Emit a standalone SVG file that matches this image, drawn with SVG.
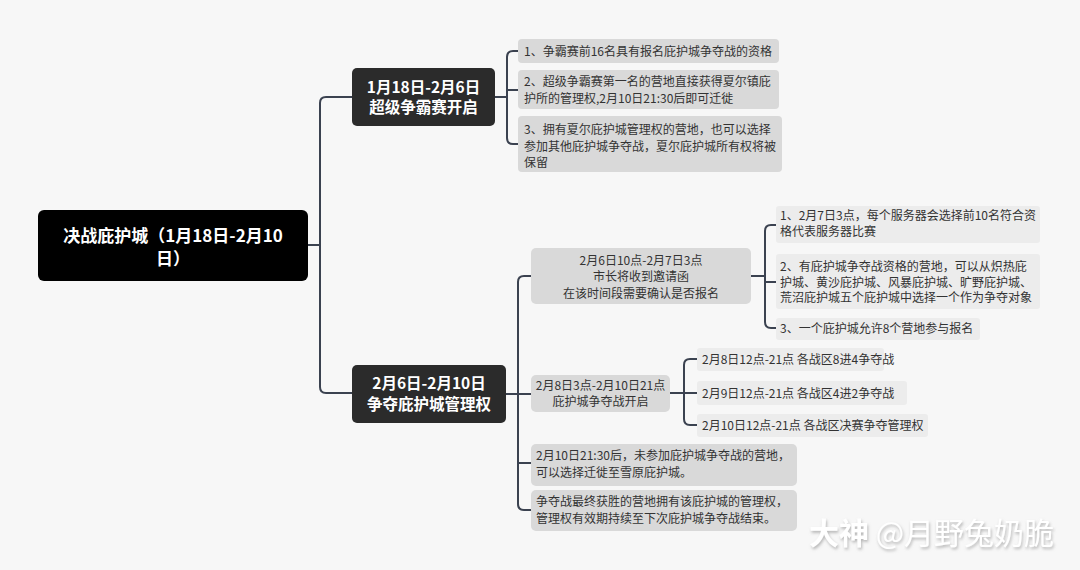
<svg xmlns="http://www.w3.org/2000/svg" width="1080" height="570" viewBox="0 0 1080 570">
<defs>
<style>
.bg{fill:#f7f7f7}
.root{fill:#000}
.main{fill:#2b2b2b}
.grey{fill:#d9d9d9}
.light{fill:#ececec}
.conn{fill:none;stroke:#3b4250;stroke-width:2;stroke-linejoin:round}
text{font-family:"Noto Sans CJK SC","Noto Sans",sans-serif}
.tr{fill:#fff;font-size:17px;font-weight:700;text-anchor:middle}
.tm{fill:#fff;font-size:15.5px;font-weight:700;text-anchor:middle}
.t{fill:#333;font-size:12px}
.tc{fill:#333;font-size:12px;text-anchor:middle}
.wm{fill:#fff;font-size:30px;filter:url(#sh)}
</style>
<filter id="sh" x="-10%" y="-30%" width="120%" height="160%">
<feDropShadow dx="1" dy="2" stdDeviation="1.5" flood-color="#9a9a9a" flood-opacity="0.7"/>
</filter>
</defs>
<rect class="bg" x="0" y="0" width="1080" height="570"/>

<g id="connectors">
<path class="conn" d="M308,245 H320"/>
<path class="conn" d="M352,97 H326 Q320,97 320,103 V387 Q320,393 326,393 H352"/>
<path class="conn" d="M495,97 H507"/>
<path class="conn" d="M518,51 H513 Q507,51 507,57 V138 Q507,144 513,144 H518"/>
<path class="conn" d="M507,90 H518"/>
<path class="conn" d="M506,394 H518"/>
<path class="conn" d="M531,276 H524 Q518,276 518,282 V504 Q518,510 524,510 H531"/>
<path class="conn" d="M518,394 H531"/>
<path class="conn" d="M518,463 H531"/>
<path class="conn" d="M751,276 H765"/>
<path class="conn" d="M776,225 H771 Q765,225 765,231 V322 Q765,328 771,328 H776"/>
<path class="conn" d="M765,282 H776"/>
<path class="conn" d="M670,393 H684"/>
<path class="conn" d="M697,359 H690 Q684,359 684,365 V419 Q684,425 690,425 H697"/>
<path class="conn" d="M684,393 H697"/>
</g>

<g id="root">
<rect class="root" x="38" y="210" width="270" height="71" rx="6"/>
<text class="tr" x="173" y="242">决战庇护城（1月18日-2月10</text>
<text class="tr" x="173" y="265">日）</text>
</g>

<g id="nodeA">
<rect class="main" x="352" y="68" width="143" height="58" rx="5"/>
<text class="tm" x="423.5" y="93">1月18日-2月6日</text>
<text class="tm" x="423.5" y="113">超级争霸赛开启</text>
</g>

<g id="a1">
<rect class="grey" x="518" y="39" width="261" height="24" rx="4"/>
<text class="t" x="524" y="55.5">1、争霸赛前16名具有报名庇护城争夺战的资格</text>
</g>
<g id="a2">
<rect class="grey" x="518" y="70" width="261" height="39" rx="4"/>
<text class="t" x="524" y="85.5">2、超级争霸赛第一名的营地直接获得夏尔镇庇</text>
<text class="t" x="524" y="103">护所的管理权,2月10日21:30后即可迁徙</text>
</g>
<g id="a3">
<rect class="grey" x="518" y="116" width="264" height="56" rx="4"/>
<text class="t" x="524" y="133.5">3、拥有夏尔庇护城管理权的营地，也可以选择</text>
<text class="t" x="524" y="150.5">参加其他庇护城争夺战，夏尔庇护城所有权将被</text>
<text class="t" x="524" y="167">保留</text>
</g>

<g id="nodeB">
<rect class="main" x="352" y="365" width="154" height="58" rx="5"/>
<text class="tm" x="429" y="389">2月6日-2月10日</text>
<text class="tm" x="429" y="410">争夺庇护城管理权</text>
</g>

<g id="c1">
<rect class="grey" x="531" y="248" width="220" height="56" rx="5"/>
<text class="tc" x="641" y="264.5">2月6日10点-2月7日3点</text>
<text class="tc" x="641" y="281">市长将收到邀请函</text>
<text class="tc" x="641" y="297.5">在该时间段需要确认是否报名</text>
</g>
<g id="d1">
<rect class="light" x="776" y="206" width="264" height="37" rx="3"/>
<text class="t" x="780" y="219.5">1、2月7日3点，每个服务器会选择前10名符合资</text>
<text class="t" x="780" y="236">格代表服务器比赛</text>
</g>
<g id="d2">
<rect class="light" x="776" y="254" width="264" height="55" rx="3"/>
<text class="t" x="780" y="270.5">2、有庇护城争夺战资格的营地，可以从炽热庇</text>
<text class="t" x="780" y="286.5">护城、黄沙庇护城、风暴庇护城、旷野庇护城、</text>
<text class="t" x="780" y="302">荒沼庇护城五个庇护城中选择一个作为争夺对象</text>
</g>
<g id="d3">
<rect class="light" x="776" y="318" width="204" height="22" rx="3"/>
<text class="t" x="780" y="333">3、一个庇护城允许8个营地参与报名</text>
</g>

<g id="c2">
<rect class="grey" x="531" y="375" width="139" height="37" rx="5"/>
<text class="tc" x="600.5" y="389.5">2月8日3点-2月10日21点</text>
<text class="tc" x="600.5" y="405.5">庇护城争夺战开启</text>
</g>
<g id="e1">
<rect class="light" x="697" y="348" width="187" height="23" rx="3"/>
<text class="t" x="702" y="364">2月8日12点-21点 各战区8进4争夺战</text>
</g>
<g id="e2">
<rect class="light" x="697" y="381" width="210" height="24" rx="3"/>
<text class="t" x="702" y="397.5">2月9日12点-21点 各战区4进2争夺战</text>
</g>
<g id="e3">
<rect class="light" x="697" y="414" width="231" height="23" rx="3"/>
<text class="t" x="702" y="430">2月10日12点-21点 各战区决赛争夺管理权</text>
</g>

<g id="c3">
<rect class="grey" x="531" y="444" width="266" height="42" rx="5"/>
<text class="t" x="536" y="459.5">2月10日21:30后，未参加庇护城争夺战的营地，</text>
<text class="t" x="536" y="476.5">可以选择迁徙至雪原庇护城。</text>
</g>
<g id="c4">
<rect class="grey" x="531" y="490" width="266" height="41" rx="5"/>
<text class="t" x="536" y="505.5">争夺战最终获胜的营地拥有该庇护城的管理权，</text>
<text class="t" x="536" y="523">管理权有效期持续至下次庇护城争夺战结束。</text>
</g>

<g id="watermark">
<text class="wm" x="809" y="544"><tspan font-weight="700">大神</tspan> @月野兔奶脆</text>
</g>
</svg>
